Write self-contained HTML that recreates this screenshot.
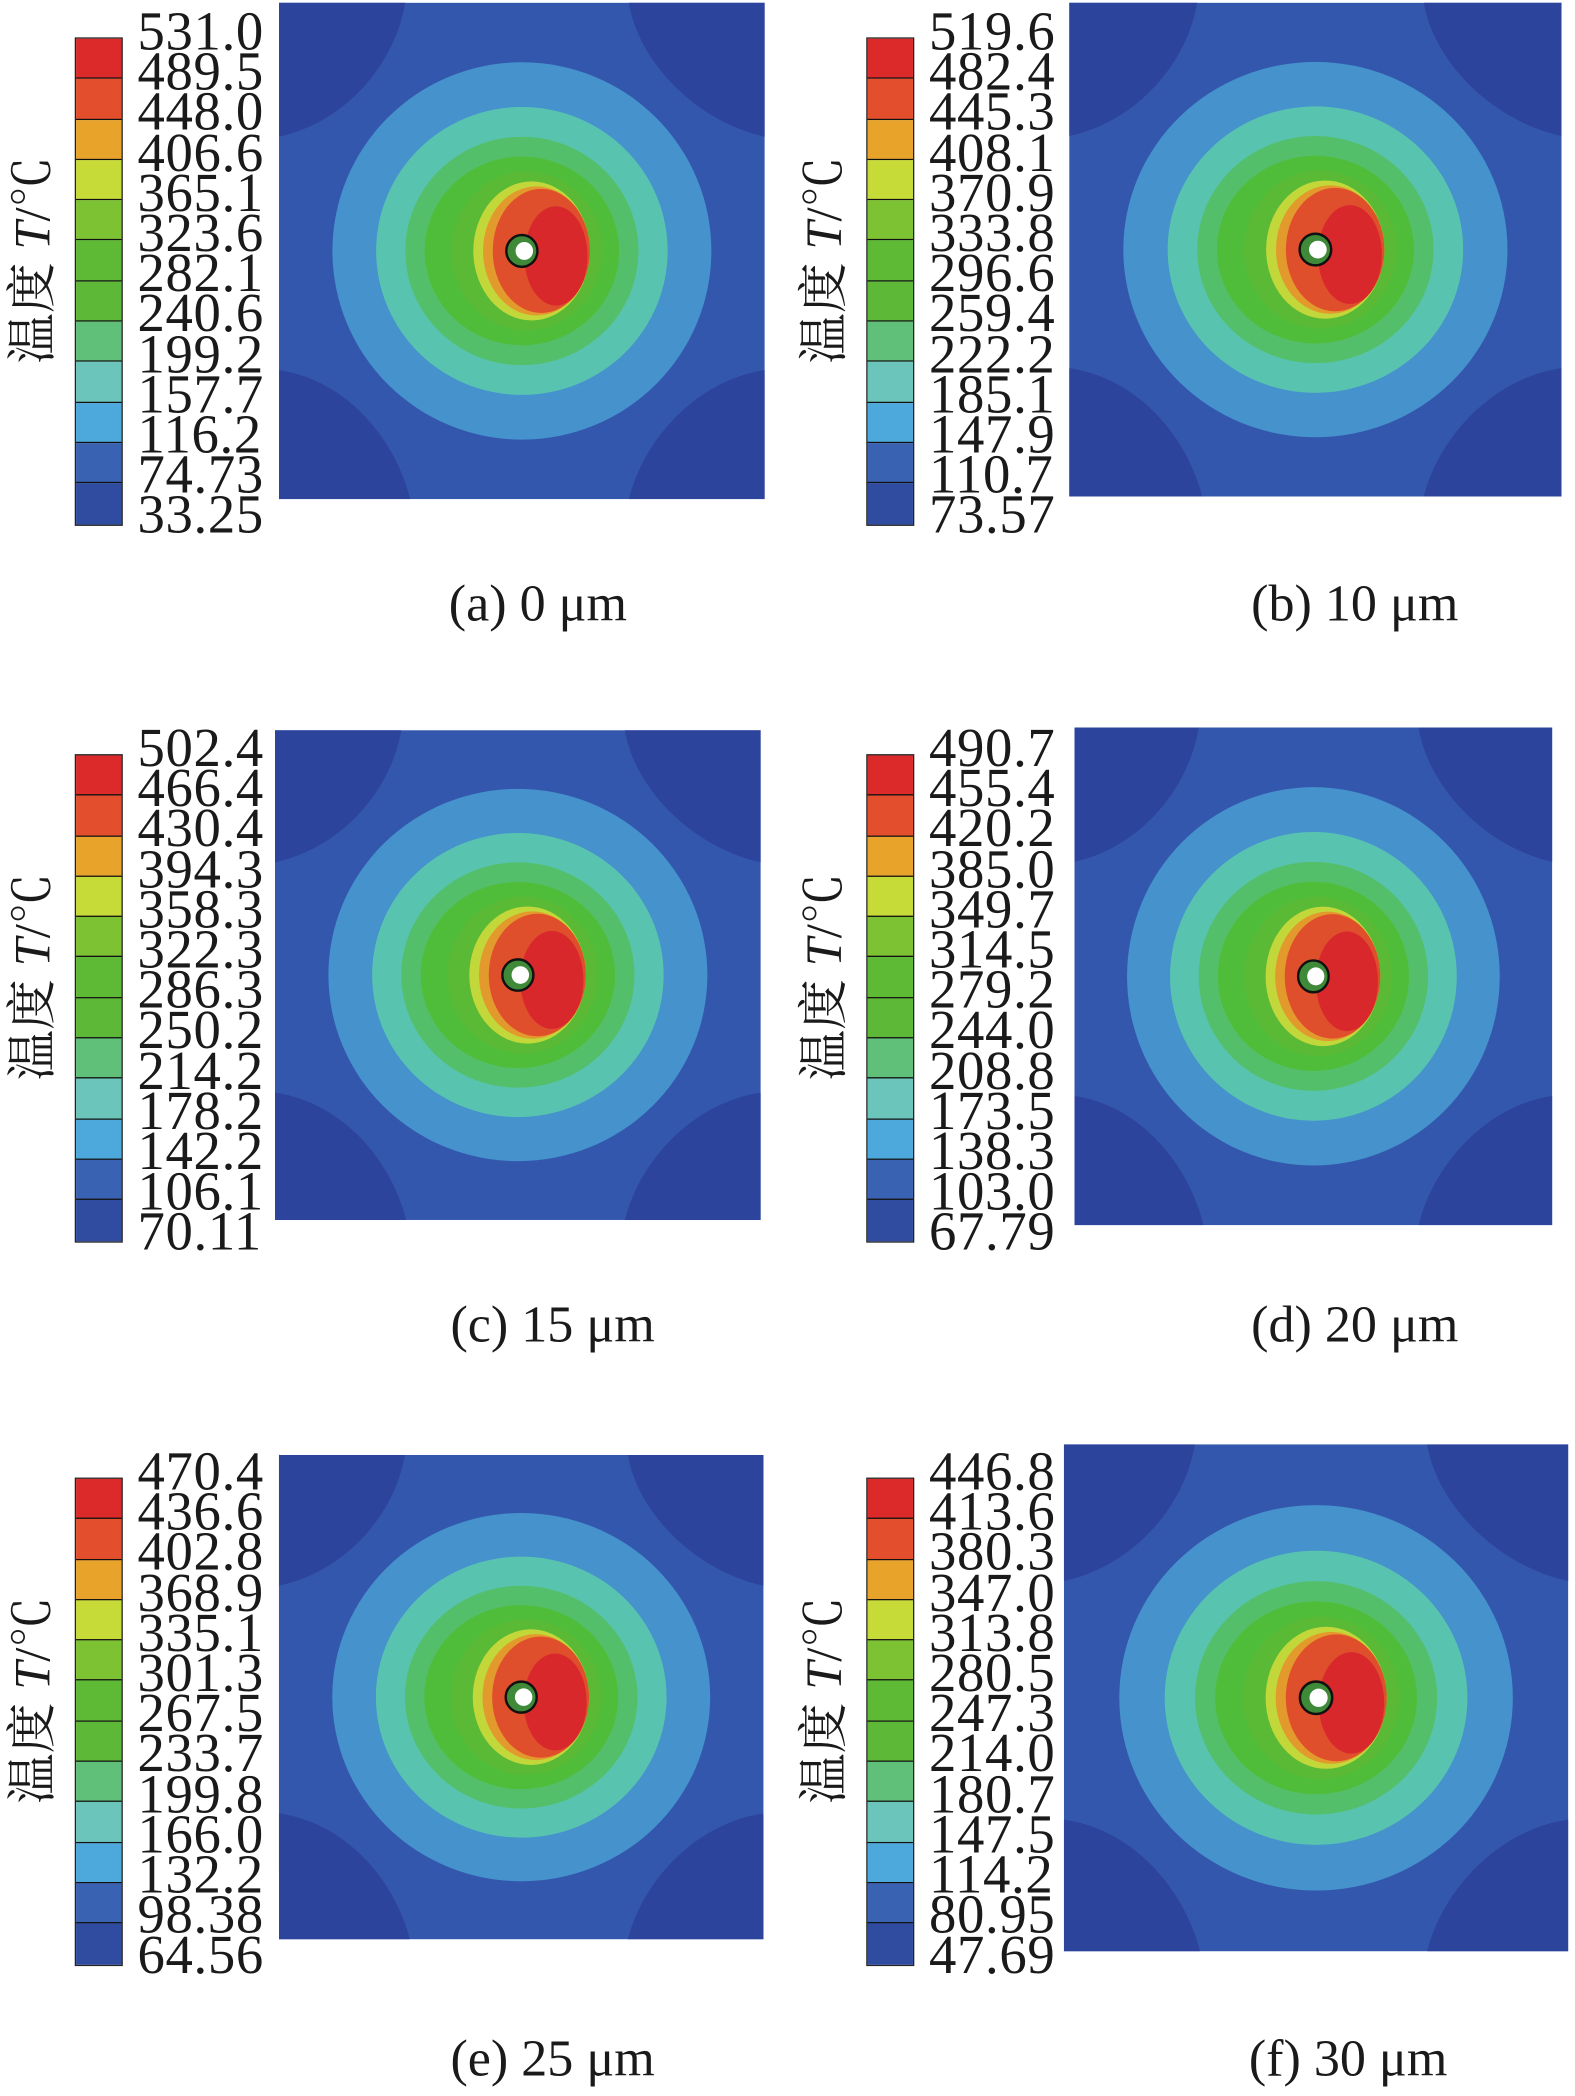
<!DOCTYPE html>
<html><head><meta charset="utf-8"><style>
html,body{margin:0;padding:0;background:#fff;width:1575px;height:2096px;overflow:hidden}
#w{position:absolute;left:0;top:0;width:1180px;height:1570px;transform:scale(1.33475);transform-origin:0 0}
.cb{position:absolute;width:34px;border:1px solid #222}
.cb div{height:30.3px;border-bottom:1px solid #111;box-sizing:border-box}
.cb div:last-child{border-bottom:none}
.lb{position:absolute;font-family:"Liberation Serif",serif;font-size:41px;line-height:30.2px;color:#1a1a1a;letter-spacing:0.5px}
.tt{position:absolute;width:220px;height:40px;line-height:40px;text-align:center;font-family:"Liberation Serif","Noto Serif CJK SC",serif;font-size:38px;color:#1a1a1a;transform:rotate(-90deg)}
.cap{position:absolute;width:300px;text-align:center;font-family:"Liberation Serif",serif;font-size:39px;color:#1a1a1a;line-height:40px}
svg.p{position:absolute}
</style></head><body><div id="w">
<svg width="0" height="0" style="position:absolute"><defs>
<symbol id="f" viewBox="0 0 100 100" preserveAspectRatio="none">
<rect width="100" height="100" fill="#3457ae"/>
<path d="M0 0H26C24 12 14 24 0 27Z" fill="#2d449d"/>
<path d="M100 0H72C74 12 86 24 100 27Z" fill="#2d449d"/>
<path d="M0 100H27C24 88 14 76 0 74Z" fill="#2d449d"/>
<path d="M100 100H72C75 88 86 76 100 74Z" fill="#2d449d"/>
<ellipse cx="50" cy="50" rx="39" ry="38" fill="#4592cc"/>
<ellipse cx="50" cy="50" rx="30" ry="29" fill="#58c4b0"/>
<ellipse cx="50" cy="50" rx="24" ry="23" fill="#54bf6b"/>
<ellipse cx="50" cy="50" rx="20" ry="19" fill="#4fbd3a"/>
<ellipse cx="51" cy="50" rx="15.5" ry="16" fill="#5ab935"/>
<ellipse cx="52" cy="50" rx="12" ry="14" fill="#c2d83a"/>
<ellipse cx="53" cy="50" rx="11" ry="13" fill="#e39a2c"/>
<ellipse cx="54" cy="50" rx="10" ry="12.5" fill="#df4f2c"/>
<ellipse cx="57" cy="51" rx="6.5" ry="10" fill="#d8282c"/>
<circle cx="50" cy="50" r="3.2" fill="#3f8a38" stroke="#111" stroke-width="0.5"/>
<circle cx="50.5" cy="50" r="1.8" fill="#fff"/>
</symbol></defs></svg>

<!-- a -->
<div class="cb" style="left:56px;top:28px"><div style="background:#dc2a2a"></div><div style="background:#e34f2c"></div><div style="background:#e8a42a"></div><div style="background:#c6da38"></div><div style="background:#7dc232"></div><div style="background:#5eb935"></div><div style="background:#5cb836"></div><div style="background:#60bf78"></div><div style="background:#6bc5ba"></div><div style="background:#4da8dc"></div><div style="background:#3a62b2"></div><div style="background:#2f4ca0"></div></div>
<div class="lb" style="left:103px;top:8px">531.0<br>489.5<br>448.0<br>406.6<br>365.1<br>323.6<br>282.1<br>240.6<br>199.2<br>157.7<br>116.2<br>74.73<br>33.25</div>
<div class="tt" style="left:-85px;top:175px">温度 <i>T</i>/℃</div>
<svg class="p" style="left:209px;top:2px" width="364" height="372"><use href="#f"/></svg>
<div class="cap" style="left:253px;top:433px">(a) 0 μm</div>

<!-- b -->
<div class="cb" style="left:649px;top:28px"><div style="background:#dc2a2a"></div><div style="background:#e34f2c"></div><div style="background:#e8a42a"></div><div style="background:#c6da38"></div><div style="background:#7dc232"></div><div style="background:#5eb935"></div><div style="background:#5cb836"></div><div style="background:#60bf78"></div><div style="background:#6bc5ba"></div><div style="background:#4da8dc"></div><div style="background:#3a62b2"></div><div style="background:#2f4ca0"></div></div>
<div class="lb" style="left:696px;top:8px">519.6<br>482.4<br>445.3<br>408.1<br>370.9<br>333.8<br>296.6<br>259.4<br>222.2<br>185.1<br>147.9<br>110.7<br>73.57</div>
<div class="tt" style="left:508px;top:175px">温度 <i>T</i>/℃</div>
<svg class="p" style="left:801px;top:2px" width="369" height="370"><use href="#f"/></svg>
<div class="cap" style="left:865px;top:433px">(b) 10 μm</div>

<!-- c -->
<div class="cb" style="left:56px;top:565px"><div style="background:#dc2a2a"></div><div style="background:#e34f2c"></div><div style="background:#e8a42a"></div><div style="background:#c6da38"></div><div style="background:#7dc232"></div><div style="background:#5eb935"></div><div style="background:#5cb836"></div><div style="background:#60bf78"></div><div style="background:#6bc5ba"></div><div style="background:#4da8dc"></div><div style="background:#3a62b2"></div><div style="background:#2f4ca0"></div></div>
<div class="lb" style="left:103px;top:545px">502.4<br>466.4<br>430.4<br>394.3<br>358.3<br>322.3<br>286.3<br>250.2<br>214.2<br>178.2<br>142.2<br>106.1<br>70.11</div>
<div class="tt" style="left:-85px;top:712px">温度 <i>T</i>/℃</div>
<svg class="p" style="left:206px;top:547px" width="364" height="367"><use href="#f"/></svg>
<div class="cap" style="left:264px;top:973px">(c) 15 μm</div>

<!-- d -->
<div class="cb" style="left:649px;top:565px"><div style="background:#dc2a2a"></div><div style="background:#e34f2c"></div><div style="background:#e8a42a"></div><div style="background:#c6da38"></div><div style="background:#7dc232"></div><div style="background:#5eb935"></div><div style="background:#5cb836"></div><div style="background:#60bf78"></div><div style="background:#6bc5ba"></div><div style="background:#4da8dc"></div><div style="background:#3a62b2"></div><div style="background:#2f4ca0"></div></div>
<div class="lb" style="left:696px;top:545px">490.7<br>455.4<br>420.2<br>385.0<br>349.7<br>314.5<br>279.2<br>244.0<br>208.8<br>173.5<br>138.3<br>103.0<br>67.79</div>
<div class="tt" style="left:508px;top:712px">温度 <i>T</i>/℃</div>
<svg class="p" style="left:805px;top:545px" width="358" height="373"><use href="#f"/></svg>
<div class="cap" style="left:865px;top:973px">(d) 20 μm</div>

<!-- e -->
<div class="cb" style="left:56px;top:1107px"><div style="background:#dc2a2a"></div><div style="background:#e34f2c"></div><div style="background:#e8a42a"></div><div style="background:#c6da38"></div><div style="background:#7dc232"></div><div style="background:#5eb935"></div><div style="background:#5cb836"></div><div style="background:#60bf78"></div><div style="background:#6bc5ba"></div><div style="background:#4da8dc"></div><div style="background:#3a62b2"></div><div style="background:#2f4ca0"></div></div>
<div class="lb" style="left:103px;top:1087px">470.4<br>436.6<br>402.8<br>368.9<br>335.1<br>301.3<br>267.5<br>233.7<br>199.8<br>166.0<br>132.2<br>98.38<br>64.56</div>
<div class="tt" style="left:-85px;top:1254px">温度 <i>T</i>/℃</div>
<div style="position:absolute;left:209px;top:1090px;width:1px;height:312px;background:#333"></div>
<svg class="p" style="left:209px;top:1090px" width="363" height="363"><use href="#f"/></svg>
<div class="cap" style="left:264px;top:1523px">(e) 25 μm</div>

<!-- f -->
<div class="cb" style="left:649px;top:1107px"><div style="background:#dc2a2a"></div><div style="background:#e34f2c"></div><div style="background:#e8a42a"></div><div style="background:#c6da38"></div><div style="background:#7dc232"></div><div style="background:#5eb935"></div><div style="background:#5cb836"></div><div style="background:#60bf78"></div><div style="background:#6bc5ba"></div><div style="background:#4da8dc"></div><div style="background:#3a62b2"></div><div style="background:#2f4ca0"></div></div>
<div class="lb" style="left:696px;top:1087px">446.8<br>413.6<br>380.3<br>347.0<br>313.8<br>280.5<br>247.3<br>214.0<br>180.7<br>147.5<br>114.2<br>80.95<br>47.69</div>
<div class="tt" style="left:508px;top:1254px">温度 <i>T</i>/℃</div>
<svg class="p" style="left:797px;top:1082px" width="378" height="380"><use href="#f"/></svg>
<div class="cap" style="left:860px;top:1523px">(f) 30 μm</div>
</div></body></html>
